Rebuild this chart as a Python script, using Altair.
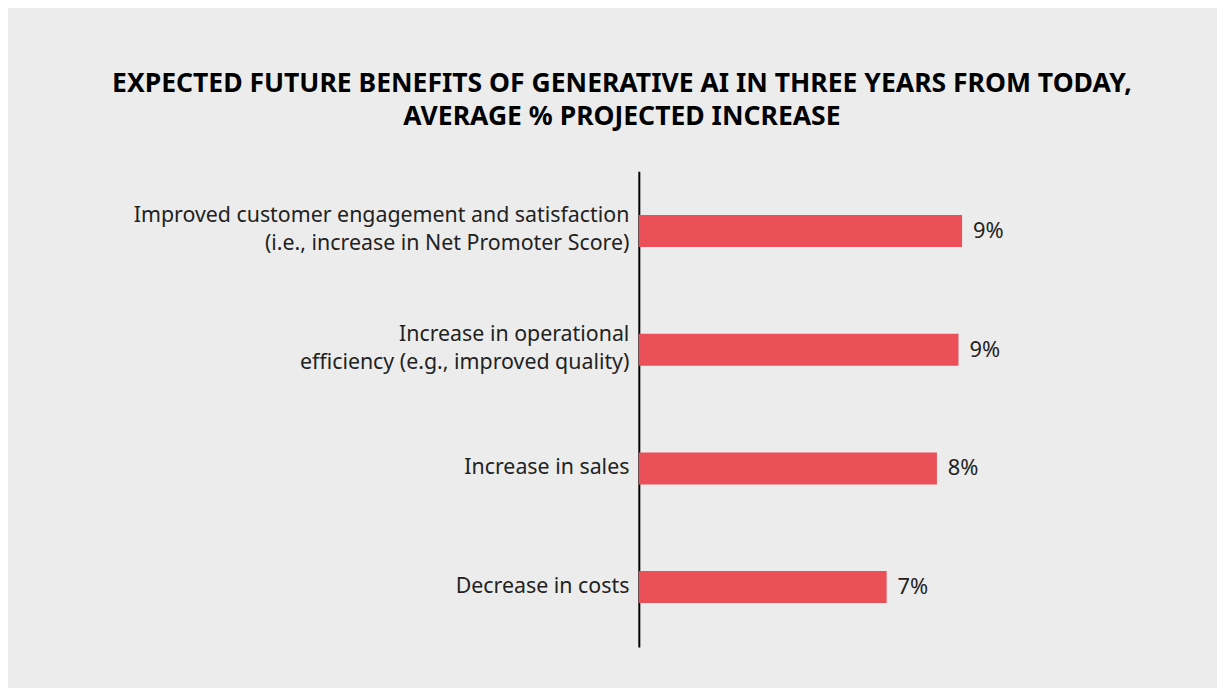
import altair as alt
import pandas as pd

categories = [
    "Improved customer engagement and satisfaction|(i.e., increase in Net Promoter Score)",
    "Increase in operational|efficiency (e.g., improved quality)",
    "Increase in sales",
    "Decrease in costs",
]
values = [9.0, 8.9, 8.3, 6.9]
value_labels = ["9%", "9%", "8%", "7%"]
title_lines = [
    "EXPECTED FUTURE BENEFITS OF GENERATIVE AI IN THREE YEARS FROM TODAY,",
    "AVERAGE % PROJECTED INCREASE",
]

df = pd.DataFrame({"category": categories, "value": values, "label": value_labels})

FONT = "Noto Sans"
RED = "#EB5058"

base = alt.Chart(df).encode(
    y=alt.Y(
        "category:N",
        sort=categories,
        scale=alt.Scale(paddingInner=0.73, paddingOuter=0.37),
        axis=alt.Axis(
            title=None,
            labelExpr="split(datum.label, '|')",
            labelOffset={"condition": {"test": "indexof(datum.label, '|') >= 0", "value": -15}, "value": 0},
            ticks=False,
            grid=False,
            domainColor="black",
            domainWidth=2,
            labelFontSize=21.5,
            labelFont=FONT,
            labelColor="#222222",
            labelPadding=10,
            labelLineHeight=28,
            labelLimit=600,
        ),
    )
)

bars = base.mark_bar(color=RED).encode(
    x=alt.X("value:Q", scale=alt.Scale(domain=[0, 13]), axis=None)
)

text = base.mark_text(align="left", dx=11, fontSize=22, font=FONT, color="#222222").encode(
    x=alt.X("value:Q"), text="label:N"
)

chart = (
    alt.layer(bars, text)
    .properties(
        width=470,
        height=479,
        padding={"left": 635, "top": 162, "right": 112, "bottom": 40},
        autosize=alt.AutoSizeParams(type="none"),
        background="#ECECEC",
        title=alt.TitleParams(
            title_lines,
            anchor="middle",
            fontSize=26.7,
            font=FONT,
            fontWeight="bold",
            color="black",
            lineHeight=33,
            dx=-252,
            offset=41,
        ),
    )
    .configure_view(stroke=None)
)

chart.save("out.html", embed_options={"renderer": "svg", "actions": False})
